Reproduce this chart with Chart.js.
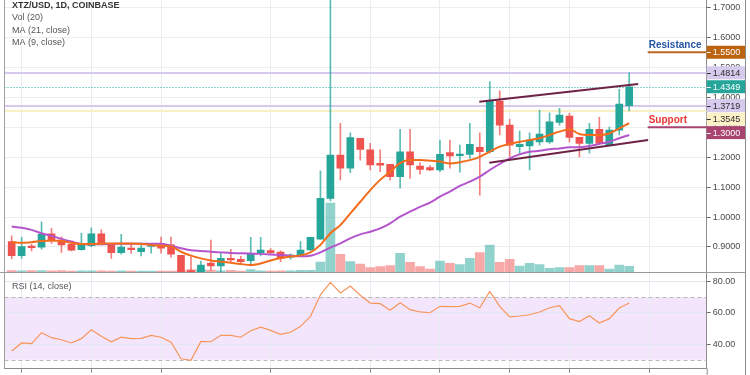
<!DOCTYPE html>
<html><head><meta charset="utf-8">
<script src="https://cdn.jsdelivr.net/npm/chart.js@4.4.1/dist/chart.umd.min.js"></script>
<style>
html,body{margin:0;padding:0;background:#fff;overflow:hidden}
#wrap{position:relative;width:750px;height:375px;background:#fff}
#c1{position:absolute;left:0;top:0}
#c2{position:absolute;left:0;top:273px}
</style></head><body>
<div id="wrap">
<canvas id="c1" width="750" height="273"></canvas>
<canvas id="c2" width="750" height="102"></canvas>
</div>
<script>
// ---------- data ----------
const opens = [0.918,0.871,0.903,0.899,0.944,0.923,0.909,0.891,0.904,0.944,
  0.912,0.881,0.896,0.884,0.902,0.907,0.907,0.872,0.800,0.796,
  0.846,0.837,0.862,0.859,0.854,0.881,0.888,0.883,0.866,0.870,
  0.890,0.926,1.062,1.207,1.163,1.263,1.224,1.179,1.176,1.135,
  1.218,1.170,1.165,1.157,1.215,1.205,1.209,1.233,1.218,1.387,
  1.307,1.235,1.237,1.251,1.251,1.316,1.337,1.266,1.246,1.293,
  1.240,1.290,1.3719];
const highs = [0.937,0.932,0.909,0.984,0.962,0.934,0.912,0.946,0.964,0.957,
  0.912,0.942,0.909,0.914,0.912,0.933,0.933,0.872,0.867,0.853,
  0.923,0.880,0.892,0.869,0.932,0.932,0.895,0.887,0.877,0.918,
  0.932,1.154,1.800,1.313,1.281,1.263,1.246,1.224,1.176,1.293,
  1.293,1.182,1.172,1.257,1.257,1.240,1.313,1.281,1.452,1.421,
  1.326,1.287,1.281,1.357,1.348,1.363,1.346,1.266,1.313,1.333,
  1.300,1.426,1.4814];
const lows = [0.860,0.862,0.887,0.893,0.912,0.882,0.887,0.889,0.901,0.907,
  0.862,0.876,0.879,0.870,0.879,0.879,0.866,0.785,0.780,0.790,
  0.823,0.818,0.847,0.847,0.837,0.870,0.874,0.851,0.859,0.868,
  0.888,0.926,1.054,1.124,1.148,1.190,1.157,1.151,1.124,1.096,
  1.129,1.143,1.155,1.151,1.163,1.150,1.196,1.073,1.213,1.274,
  1.201,1.210,1.157,1.240,1.246,1.307,1.251,1.201,1.213,1.244,
  1.240,1.274,1.3545];
const closes = [0.871,0.901,0.898,0.942,0.920,0.907,0.889,0.910,0.944,0.913,
  0.881,0.900,0.891,0.896,0.906,0.896,0.876,0.800,0.795,0.840,
  0.837,0.862,0.857,0.851,0.877,0.890,0.881,0.862,0.873,0.890,
  0.932,1.062,1.207,1.163,1.265,1.226,1.174,1.173,1.135,1.218,
  1.174,1.159,1.157,1.209,1.204,1.209,1.243,1.218,1.387,1.307,
  1.240,1.243,1.257,1.277,1.318,1.340,1.266,1.246,1.293,1.246,
  1.290,1.377,1.4349];
const volumes = [15,12,15,15,12,15,10,12,12,12,
  10,12,10,10,8,8,10,15,25,25,
  20,12,17,10,23,12,10,12,12,17,
  17,100,690,177,103,80,43,53,63,187,
  97,53,30,110,87,73,137,193,270,97,
  127,60,87,73,37,43,43,63,63,63,
  30,70,57];
const ma21 = [0.968,0.964,0.957,0.946,0.937,0.927,0.918,0.910,0.909,0.909,
  0.910,0.911,0.911,0.911,0.911,0.911,0.904,0.896,0.889,0.887,
  0.884,0.882,0.880,0.879,0.878,0.877,0.875,0.873,0.871,0.869,
  0.871,0.882,0.898,0.912,0.929,0.942,0.951,0.962,0.979,1.001,
  1.018,1.034,1.048,1.068,1.085,1.104,1.118,1.135,1.157,1.177,
  1.196,1.209,1.218,1.221,1.226,1.229,1.233,1.233,1.237,1.244,
  1.251,1.263,1.274];
const ma9 = [0.916,0.914,0.916,0.920,0.922,0.920,0.914,0.910,0.910,0.911,
  0.912,0.912,0.912,0.910,0.907,0.904,0.902,0.884,0.871,0.862,
  0.855,0.851,0.847,0.843,0.840,0.845,0.855,0.863,0.868,0.872,
  0.882,0.907,0.946,0.973,1.012,1.051,1.090,1.124,1.151,1.180,
  1.190,1.190,1.188,1.185,1.179,1.183,1.190,1.201,1.218,1.235,
  1.244,1.251,1.257,1.263,1.274,1.285,1.293,1.277,1.274,1.274,
  1.279,1.296,1.313];
const rsi = [35.6,40.7,40.3,47.3,44.1,42.8,40.7,43.5,49.2,45.0,
  41.5,44.4,43.5,43.7,45.6,44.4,41.2,30.6,29.6,41.7,
  41.5,45.6,45.6,44.4,48.6,50.8,48.8,46.3,47.6,51.4,
  57.8,71.6,79.6,72.8,77.2,71.3,66.3,65.9,61.7,66.5,
  62.1,60.6,60.1,64.2,64.0,64.2,66.3,63.3,73.8,64.2,
  57.4,58.0,58.8,60.6,63.3,64.6,56.3,54.4,58.2,53.5,
  56.3,63.1,66.3];
const trendUpperX = [46.95, 62.9];
const trendUpperY = [1.385, 1.444];
const trendLowerX = [47.95, 63.9];
const trendLowerY = [1.181, 1.257];
const levelValues = [1.55, 1.4814, 1.4349, 1.3719, 1.3545, 1.30];
const levelNames = ['Resistance', '', '', '', '', 'Support'];
const priceTicks = [0.9, 1.0, 1.1, 1.2, 1.3, 1.4, 1.5, 1.6, 1.7];
const rsiTicks = [40, 60, 80];
const rsiBand = [30, 70];
const gridIdx = [1, 8, 15, 26, 36, 43, 50, 56, 64];
const legendLines = ['XTZ/USD, 1D, COINBASE', 'Vol (20)', 'MA (21, close)', 'MA (9, close)'];
const rsiTitle = 'RSI (14, close)';

// ---------- styles ----------
const UP = '#26a69a', DOWN = '#ef5350';
const GRID = '#e8edf2';
const FONT = "'Liberation Sans', Arial, sans-serif";
Chart.defaults.font.family = FONT;
Chart.defaults.font.size = 9;

const xMin = -0.72, xMax = 69.78;
const priceMin = 0.8165, priceMax = 1.7244;
const volAxisMax = 2720;

const idx = opens.map((_, i) => i);
const isUp = idx.map(i => closes[i] >= opens[i]);

function hline(ctx, x1, x2, y, color, w, dash) {
  ctx.save();
  ctx.strokeStyle = color; ctx.lineWidth = w;
  ctx.setLineDash(dash || []);
  ctx.beginPath(); ctx.moveTo(x1, y); ctx.lineTo(x2, y); ctx.stroke();
  ctx.restore();
}
function vline(ctx, x, y1, y2, color, w) {
  ctx.save();
  ctx.strokeStyle = color; ctx.lineWidth = w || 1;
  ctx.beginPath(); ctx.moveTo(x, y1); ctx.lineTo(x, y2); ctx.stroke();
  ctx.restore();
}

const levelStyles = [
  {box: '#bc630f', text: '#ffffff', line: null},
  {box: '#d6cbec', text: '#2e2e2e', line: '#d6c8ee', w: 2},
  {box: '#26a69a', text: '#ffffff', line: '#26a69a', w: 1, dash: [1, 2]},
  {box: '#d6cbec', text: '#2e2e2e', line: '#d6c8ee', w: 2},
  {box: '#fdf1c8', text: '#2e2e2e', line: '#fbefc6', w: 2},
  {box: '#a8446f', text: '#ffffff', line: null}
];

const mainDeco = {
  id: 'mainDeco',
  beforeDatasetsDraw(chart) {
    const {ctx, chartArea: a, scales: {y}} = chart;
    levelValues.forEach((v, i) => {
      const st = levelStyles[i];
      if (!st.line) return;
      const py = Math.round(y.getPixelForValue(v)) + (st.w === 1 ? 0.5 : 0);
      hline(ctx, a.left, a.right, py, st.line, st.w, st.dash);
    });
  },
  afterDraw(chart) {
    const {ctx, chartArea: a, scales: {y}} = chart;
    // resistance / support short lines and labels
    const nameColors = ['#2454a6', '', '', '', '', '#e53935'];
    const lineColors = ['#b8671f', '', '', '', '', '#a8446f'];
    levelValues.forEach((v, i) => {
      if (!levelNames[i]) return;
      const py = y.getPixelForValue(v);
      hline(ctx, a.right - 59, a.right, py, lineColors[i], 2);
      ctx.save();
      ctx.font = 'bold 10px ' + FONT;
      ctx.fillStyle = nameColors[i];
      ctx.textBaseline = 'alphabetic';
      ctx.fillText(levelNames[i], a.right - 58, py - 4);
      ctx.restore();
    });
    // axis value boxes
    let prev = -100;
    levelValues.forEach((v, i) => {
      const st = levelStyles[i];
      let c = Math.max(y.getPixelForValue(v), prev + 13.5);
      prev = c;
      ctx.save();
      ctx.fillStyle = st.box;
      ctx.fillRect(a.right, c - 6.5, 38.8, 13);
      hline(ctx, a.right, a.right + 4, Math.round(c) + 0.5, st.text, 1);
      ctx.fillStyle = st.text;
      ctx.font = '9px ' + FONT;
      ctx.textBaseline = 'middle';
      ctx.fillText(v.toFixed(4), a.right + 6, c + 0.5);
      ctx.restore();
    });
    // legend text
    ctx.save();
    ctx.textBaseline = 'alphabetic';
    const ys = [8, 19.7, 32.5, 45];
    legendLines.forEach((t, i) => {
      ctx.font = (i === 0 ? 'bold ' : '') + '9px ' + FONT;
      ctx.fillStyle = i === 0 ? '#333333' : '#555555';
      ctx.fillText(t, 12, ys[i]);
    });
    ctx.restore();
    // frame lines
    vline(ctx, 4.5, 0, a.bottom, '#a0a0a0');
    vline(ctx, 745.5, 0, chart.height, '#8c8c8c');
    hline(ctx, 0, 746, a.bottom + 0.5, '#9a9a9a', 1);
  }
};

const chart1 = new Chart(document.getElementById('c1'), {
  type: 'bar',
  data: {
    datasets: [
      { type: 'bar', yAxisID: 'yv', order: 10, grouped: false, barThickness: 9,
        data: idx.map(i => ({x: i, y: volumes[i]})),
        backgroundColor: idx.map(i => isUp[i] ? 'rgba(38,166,154,0.5)' : 'rgba(239,83,80,0.5)') },
      { type: 'bar', yAxisID: 'y', order: 6, grouped: false, barThickness: 1,
        data: idx.map(i => ({x: i, y: [lows[i], highs[i]]})),
        backgroundColor: idx.map(i => isUp[i] ? 'rgba(38,166,154,0.75)' : 'rgba(239,83,80,0.75)') },
      { type: 'bar', yAxisID: 'y', order: 5, grouped: false, barThickness: 7, minBarLength: 1.5,
        data: idx.map(i => ({x: i, y: [opens[i], closes[i]]})),
        backgroundColor: idx.map(i => isUp[i] ? UP : DOWN) },
      { type: 'line', yAxisID: 'y', order: 3, data: idx.map(i => ({x: i, y: ma21[i]})),
        borderColor: '#b455cc', borderWidth: 2, pointRadius: 0, cubicInterpolationMode: 'monotone' },
      { type: 'line', yAxisID: 'y', order: 2, data: idx.map(i => ({x: i, y: ma9[i]})),
        borderColor: '#f36c1c', borderWidth: 2, pointRadius: 0, cubicInterpolationMode: 'monotone' },
      { type: 'line', yAxisID: 'y', order: 1, data: trendUpperX.map((x, i) => ({x, y: trendUpperY[i]})),
        borderColor: '#6e2346', borderWidth: 2, pointRadius: 0 },
      { type: 'line', yAxisID: 'y', order: 1, data: trendLowerX.map((x, i) => ({x, y: trendLowerY[i]})),
        borderColor: '#6e2346', borderWidth: 2, pointRadius: 0 }
    ]
  },
  options: {
    responsive: false, animation: false, events: [],
    layout: {padding: {left: 4.5, right: 0, top: 0, bottom: 0}},
    plugins: {legend: {display: false}, tooltip: {enabled: false}},
    scales: {
      x: { type: 'linear', min: xMin, max: xMax, offset: false,
        grid: {offset: false, color: GRID, drawTicks: false},
        border: {display: false}, ticks: {display: false},
        afterBuildTicks: s => { s.ticks = gridIdx.map(v => ({value: v})); },
        afterFit: s => { s.height = 1; s.paddingLeft = 0; s.paddingRight = 0; } },
      y: { position: 'right', min: priceMin, max: priceMax,
        grid: {color: GRID, tickColor: '#6b6b6b', tickLength: 4},
        border: {color: '#8c8c8c'},
        ticks: {color: '#4a4a4a', padding: 2, font: {size: 9}, callback: v => Number(v).toFixed(4)},
        afterBuildTicks: s => { s.ticks = priceTicks.map(v => ({value: v})); },
        afterFit: s => { s.width = 43.3; s.paddingTop = 0; s.paddingBottom = 0; } },
      yv: { display: false, min: 0, max: volAxisMax, position: 'left' }
    }
  },
  plugins: [mainDeco]
});

const rsiDeco = {
  id: 'rsiDeco',
  beforeDraw(chart) {
    const {ctx, chartArea: a, scales: {y}} = chart;
    const y1 = y.getPixelForValue(rsiBand[1]), y2 = y.getPixelForValue(rsiBand[0]);
    ctx.save();
    ctx.fillStyle = '#f3e6fc';
    ctx.fillRect(a.left, y1, a.right - a.left, y2 - y1);
    ctx.restore();
  },
  beforeDatasetsDraw(chart) {
    const {ctx, chartArea: a, scales: {y}} = chart;
    rsiBand.forEach(v => {
      hline(ctx, a.left, a.right, Math.round(y.getPixelForValue(v)) + 0.5, '#b8b8b8', 1, [4, 3]);
    });
  },
  afterDraw(chart) {
    const {ctx, chartArea: a} = chart;
    ctx.save();
    ctx.font = '9px ' + FONT;
    ctx.fillStyle = '#555555';
    ctx.fillText(rsiTitle, 12, 16);
    ctx.restore();
    vline(ctx, 4.5, 0, a.bottom, '#a0a0a0');
    vline(ctx, a.right + 0.5, a.bottom, chart.height, '#8c8c8c');
    vline(ctx, 745.5, 0, chart.height, '#8c8c8c');
  }
};

const chart2 = new Chart(document.getElementById('c2'), {
  type: 'line',
  data: {
    datasets: [
      { data: idx.map(i => ({x: i, y: rsi[i]})), borderColor: '#f7955b', borderWidth: 1.2,
        pointRadius: 0, tension: 0 }
    ]
  },
  options: {
    responsive: false, animation: false, events: [],
    layout: {padding: {left: 4.5, right: 0, top: 0, bottom: 0}},
    plugins: {legend: {display: false}, tooltip: {enabled: false}},
    scales: {
      x: { type: 'linear', min: xMin, max: xMax, offset: false,
        grid: {offset: false, color: GRID, drawTicks: true, tickLength: 4, tickColor: '#8c8c8c'},
        border: {display: true, color: '#8c8c8c'}, ticks: {display: false},
        afterBuildTicks: s => { s.ticks = gridIdx.map(v => ({value: v})); },
        afterFit: s => { s.height = 6.3; s.paddingLeft = 0; s.paddingRight = 0; } },
      y: { position: 'right', min: 24.2, max: 85.6,
        grid: {color: '#e3e6ee', tickColor: '#6b6b6b', tickLength: 4},
        border: {color: '#8c8c8c'},
        ticks: {color: '#4a4a4a', padding: 2, font: {size: 9}, callback: v => Number(v).toFixed(2)},
        afterBuildTicks: s => { s.ticks = rsiTicks.map(v => ({value: v})); },
        afterFit: s => { s.width = 43.3; s.paddingTop = 0; s.paddingBottom = 0; } }
    }
  },
  plugins: [rsiDeco]
});
</script>
</body></html>
